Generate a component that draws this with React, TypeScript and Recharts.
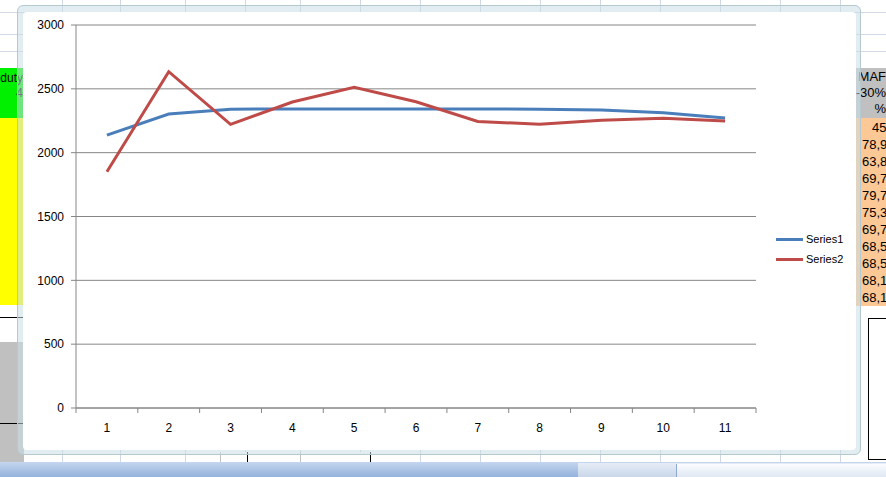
import { LineChart, Line, XAxis, YAxis, CartesianGrid } from "recharts";

const categories = [1, 2, 3, 4, 5, 6, 7, 8, 9, 10, 11];
const series1 = [2138, 2303, 2340, 2343, 2343, 2343, 2343, 2340, 2334, 2313, 2272];
const series2 = [1851, 2634, 2222, 2397, 2512, 2399, 2245, 2222, 2253, 2269, 2248];
const yTicks = [0, 500, 1000, 1500, 2000, 2500, 3000];
const seriesNames = ["Series1", "Series2"];
const seriesColors = ["#4a7ebb", "#be4b48"];

// cells peeking out on the right of the chart
const rightHead = ["MAF", "-30%", "%"];
const rightCells = ["45", "78,9", "63,8", "69,7", "79,7", "75,3", "69,7", "68,5", "68,5", "68,1", "68,1"];

const data = categories.map((c, i) => ({ x: c, s1: series1[i], s2: series2[i] }));
// labels on the categories, tick marks on the boundaries between them
const xTicks = [0.5, ...categories.flatMap((c) => [c, c + 0.5])];

const FONT = "'Liberation Sans', Arial, sans-serif";
const AXIS = "#868686";

function XTick(props: any) {
  const { x, y, payload } = props;
  const v = payload.value;
  if (v % 1 !== 0) {
    return <line x1={x} x2={x} y1={y - 8} y2={y - 3} stroke={AXIS} />;
  }
  return (
    <text x={x} y={y + 16} textAnchor="middle" fontSize={12} fill="#000" fontFamily={FONT}>
      {v}
    </text>
  );
}

export default function App() {
  const gridCols = [62, 120, 185, 245, 300, 360, 420, 480, 540, 600, 660, 720, 780, 840];
  const gridRows = [12, 34, 51, 68];
  return (
    <div
      style={{
        position: "absolute",
        left: 0,
        top: 0,
        width: 886,
        height: 477,
        overflow: "hidden",
        background: "#fff",
        fontFamily: FONT,
      }}
    >
      {/* spreadsheet grid behind */}
      {gridCols.map((x) => (
        <div key={"c" + x} style={{ position: "absolute", left: x, top: 0, width: 1, height: 477, background: "#d0d7e5" }} />
      ))}
      {gridRows.map((y) => (
        <div key={"r" + y} style={{ position: "absolute", left: 0, top: y, width: 886, height: 1, background: "#d0d7e5" }} />
      ))}

      {/* left cells */}
      <div style={{ position: "absolute", left: 0, top: 68, width: 24, height: 50, background: "#00f000" }}>
        <div style={{ position: "absolute", right: 1, top: 3, fontSize: 12, lineHeight: "15px", textAlign: "right" }}>
          duty<br />4
        </div>
      </div>
      <div style={{ position: "absolute", left: 0, top: 118, width: 24, height: 187, background: "#ffff00" }} />
      <div style={{ position: "absolute", left: 0, top: 317, width: 24, height: 1, background: "#000" }} />
      <div style={{ position: "absolute", left: 0, top: 342, width: 24, height: 120, background: "#c0c0c0" }} />
      <div style={{ position: "absolute", left: 0, top: 423, width: 24, height: 1, background: "#000" }} />

      {/* right cells */}
      <div style={{ position: "absolute", left: 856, top: 68, width: 40, height: 50, background: "#c0c0c0" }}>
        {rightHead.map((t, i) => (
          <div key={t} style={{ position: "absolute", right: 10, top: 1 + i * 16, fontSize: 13, lineHeight: "16px" }}>
            {t}
          </div>
        ))}
      </div>
      <div style={{ position: "absolute", left: 856, top: 118, width: 40, height: 188, background: "#fcc895" }}>
        {rightCells.map((t, i) => (
          <div
            key={i}
            style={{
              position: "absolute",
              left: i === 0 ? 16 : 6,
              top: 2 + i * 17,
              fontSize: 13,
              lineHeight: "16px",
              whiteSpace: "nowrap",
            }}
          >
            {t}
          </div>
        ))}
      </div>
      <div style={{ position: "absolute", left: 868, top: 318, width: 20, height: 140, border: "1px solid #000", background: "#fff" }} />

      {/* cells under the chart */}
      <div style={{ position: "absolute", left: 220, top: 452, width: 150, height: 10, background: "#fff", borderLeft: "1px solid #c0c0c0" }} />
      <div style={{ position: "absolute", left: 247, top: 452, width: 1, height: 10, background: "#000" }} />
      <div style={{ position: "absolute", left: 300, top: 452, width: 1, height: 10, background: "#c0c0c0" }} />
      <div style={{ position: "absolute", left: 370, top: 452, width: 1, height: 10, background: "#000" }} />

      {/* bottom bar */}
      <div style={{ position: "absolute", left: 0, top: 462, width: 886, height: 15, background: "linear-gradient(#c4d6ee, #94b2dc)" }} />
      <div style={{ position: "absolute", left: 578, top: 463, width: 308, height: 14, background: "linear-gradient(#e6edf6, #c9d7ea)" }} />
      <div style={{ position: "absolute", left: 676, top: 464, width: 210, height: 13, background: "linear-gradient(#fbfcfe, #dfe8f4)", borderLeft: "1px solid #8fa8cc" }} />

      {/* chart frame (semi-transparent, the cells show through) */}
      <div
        style={{
          position: "absolute",
          left: 17,
          top: 5,
          width: 844,
          height: 450,
          background: "rgba(200, 222, 228, 0.55)",
          border: "1px solid #b5c9cf",
          borderRadius: 6,
          boxSizing: "border-box",
        }}
      />
      <div style={{ position: "absolute", left: 23, top: 12, width: 833, height: 438, background: "#fff", borderRadius: 4 }}>
        <LineChart width={833} height={438} data={data} margin={{ top: 13, right: 100, left: 0, bottom: 12 }}>
          <CartesianGrid vertical={false} stroke={AXIS} strokeDasharray="" />
          <XAxis
            dataKey="x"
            type="number"
            domain={[0.5, 11.5]}
            ticks={xTicks}
            interval={0}
            height={30}
            axisLine={{ stroke: AXIS }}
            tickLine={false}
            tick={<XTick />}
          />
          <YAxis
            domain={[0, 3000]}
            ticks={yTicks}
            width={53}
            axisLine={{ stroke: AXIS }}
            tickLine={{ stroke: AXIS }}
            tickSize={5}
            tick={{ fontSize: 12, fill: "#000", fontFamily: FONT, dx: -5 }}
          />
          <Line dataKey="s1" stroke={seriesColors[0]} strokeWidth={3} dot={false} isAnimationActive={false} />
          <Line dataKey="s2" stroke={seriesColors[1]} strokeWidth={3} dot={false} isAnimationActive={false} />
        </LineChart>
        {seriesNames.map((name, i) => (
          <div
            key={name}
            style={{ position: "absolute", left: 753, top: 220 + i * 20, display: "flex", alignItems: "center", height: 14 }}
          >
            <div style={{ width: 27, height: 3, background: seriesColors[i], marginRight: 3 }} />
            <span style={{ fontSize: 11, color: "#000" }}>{name}</span>
          </div>
        ))}
      </div>
    </div>
  );
}
